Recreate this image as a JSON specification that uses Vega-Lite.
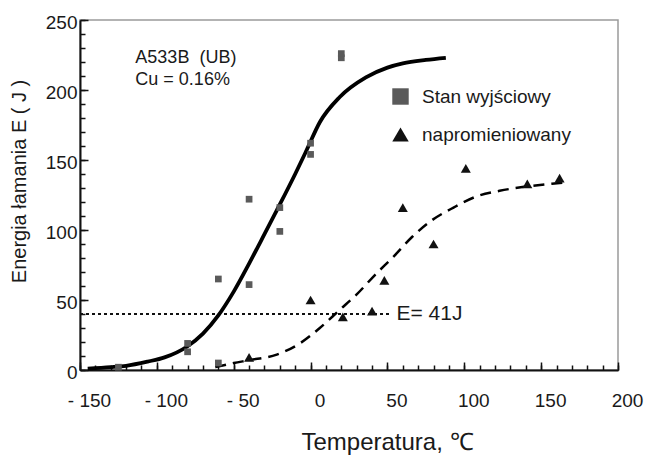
{
  "$schema": "https://vega.github.io/schema/vega-lite/v6.json",
  "width": 538,
  "height": 350,
  "autosize": {"type": "none"},
  "padding": {"left": 80, "top": 20, "right": 30, "bottom": 85},
  "background": "white",
  "config": {
    "font": "Liberation Sans",
    "view": {"stroke": "#9a9a9a", "strokeWidth": 1.5},
    "axis": {"domainColor": "#111", "domainWidth": 2, "tickColor": "#111", "tickWidth": 1.5, "labelColor": "#1a1a1a", "titleColor": "#1a1a1a", "titleFontWeight": "normal", "grid": false},
    "legend": {"symbolSize": 270}
  },
  "datasets": {
    "kwadraty": [
      {"seria": "Stan wyjściowy", "T": -125, "E": 2},
      {"seria": "Stan wyjściowy", "T": -80, "E": 19},
      {"seria": "Stan wyjściowy", "T": -80, "E": 13},
      {"seria": "Stan wyjściowy", "T": -60, "E": 5},
      {"seria": "Stan wyjściowy", "T": -60, "E": 65},
      {"seria": "Stan wyjściowy", "T": -40, "E": 61},
      {"seria": "Stan wyjściowy", "T": -40, "E": 122},
      {"seria": "Stan wyjściowy", "T": -20, "E": 116},
      {"seria": "Stan wyjściowy", "T": -20, "E": 99},
      {"seria": "Stan wyjściowy", "T": 0, "E": 162},
      {"seria": "Stan wyjściowy", "T": 0, "E": 154},
      {"seria": "Stan wyjściowy", "T": 20, "E": 223},
      {"seria": "Stan wyjściowy", "T": 20, "E": 226}
    ],
    "trojkaty": [
      {"seria": "napromieniowany", "T": -40, "E": 9},
      {"seria": "napromieniowany", "T": 0, "E": 50},
      {"seria": "napromieniowany", "T": 21, "E": 38},
      {"seria": "napromieniowany", "T": 40, "E": 42},
      {"seria": "napromieniowany", "T": 48, "E": 64},
      {"seria": "napromieniowany", "T": 60, "E": 116},
      {"seria": "napromieniowany", "T": 80, "E": 90},
      {"seria": "napromieniowany", "T": 101, "E": 144},
      {"seria": "napromieniowany", "T": 141, "E": 133},
      {"seria": "napromieniowany", "T": 162, "E": 137}
    ],
    "krzywa1": [
      {"T": -145, "E": 1}, {"T": -130, "E": 2}, {"T": -120, "E": 3}, {"T": -106, "E": 6},
      {"T": -95, "E": 9}, {"T": -80, "E": 17}, {"T": -70, "E": 26}, {"T": -60, "E": 39},
      {"T": -50, "E": 56}, {"T": -40, "E": 76}, {"T": -30, "E": 97}, {"T": -22, "E": 114},
      {"T": -10, "E": 140}, {"T": -3, "E": 156}, {"T": 6, "E": 177}, {"T": 19, "E": 195},
      {"T": 36, "E": 209}, {"T": 50, "E": 216}, {"T": 60, "E": 219}, {"T": 75, "E": 221.5},
      {"T": 88, "E": 223}
    ],
    "krzywa2": [
      {"T": -62, "E": 2}, {"T": -50, "E": 5}, {"T": -40, "E": 7}, {"T": -22, "E": 11},
      {"T": -7, "E": 19}, {"T": 6, "E": 30}, {"T": 19, "E": 43}, {"T": 30, "E": 54},
      {"T": 42, "E": 68}, {"T": 54, "E": 81}, {"T": 66, "E": 95}, {"T": 79, "E": 107},
      {"T": 93, "E": 116}, {"T": 108, "E": 124}, {"T": 123, "E": 128}, {"T": 140, "E": 131},
      {"T": 157, "E": 133}, {"T": 166, "E": 134}
    ],
    "prog": [{"T1": -150, "T2": 52, "E": 40, "opis": "E= 41J"}],
    "opisy": [
      {"T": -114, "E": 223, "tekst": "A533B\u00a0 (UB)"},
      {"T": -114, "E": 207, "tekst": "Cu = 0.16%"}
    ]
  },
  "layer": [
    {
      "data": {"name": "prog"},
      "mark": {"type": "rule", "strokeDash": [3, 3], "strokeWidth": 2, "color": "#111"},
      "encoding": {
        "x": {"field": "T1", "type": "quantitative", "scale": {"domain": [-150, 200], "nice": false},
          "axis": {"orient": "bottom", "values": [-150,-140,-130,-120,-110,-100,-90,-80,-70,-60,-50,-40,-30,-20,-10,0,10,20,30,40,50,60,70,80,90,100,110,120,130,140,150,160,170,180,190,200], "labels": false, "domain": false, "tickSize": -5, "title": null}},
        "x2": {"field": "T2"},
        "y": {"field": "E", "type": "quantitative", "scale": {"domain": [0, 250], "nice": false},
          "axis": {"orient": "left", "values": [0,10,20,30,40,50,60,70,80,90,100,110,120,130,140,150,160,170,180,190,200,210,220,230,240,250], "labels": false, "domain": false, "tickSize": -5, "title": null}}
      }
    },
    {
      "data": {"name": "prog"},
      "mark": {"type": "text", "align": "left", "baseline": "middle", "fontSize": 21, "color": "#1a1a1a", "dx": 6},
      "encoding": {
        "x": {"field": "T2", "type": "quantitative", "axis": null},
        "y": {"field": "E", "type": "quantitative", "axis": null},
        "text": {"field": "opis"}
      }
    },
    {
      "data": {"name": "krzywa1"},
      "mark": {"type": "line", "color": "#000", "strokeWidth": 3.8, "interpolate": "monotone"},
      "encoding": {
        "x": {"field": "T", "type": "quantitative",
          "axis": {"orient": "bottom", "values": [-150, -100, -50, 0, 50, 100, 150, 200], "tickSize": -8, "labelFontSize": 19, "labelPadding": 29, "labelOffset": 9,
            "labelExpr": "datum.value < 0 ? '- ' + (-datum.value) : '' + datum.value", "labelFlush": false,
            "title": "Temperatura, ℃", "titleFontSize": 24, "titleX": 307, "titleY": 79, "titleBaseline": "alphabetic"}},
        "y": {"field": "E", "type": "quantitative",
          "axis": {"orient": "left", "values": [0, 50, 100, 150, 200, 250], "tickSize": -8, "labelFontSize": 19, "labelPadding": 11, "labelOffset": 2,
            "title": "Energia łamania E ( J )", "titleFontSize": 20, "titleX": -61, "titleY": 161, "titleBaseline": "middle", "titleAngle": -90}}
      }
    },
    {
      "data": {"name": "krzywa2"},
      "mark": {"type": "line", "color": "#000", "strokeWidth": 2.5, "strokeDash": [11, 7], "interpolate": "monotone"},
      "encoding": {
        "x": {"field": "T", "type": "quantitative", "axis": null},
        "y": {"field": "E", "type": "quantitative", "axis": null}
      }
    },
    {
      "data": {"name": "kwadraty"},
      "mark": {"type": "point", "filled": true, "opacity": 1, "strokeWidth": 0, "size": 45},
      "encoding": {
        "x": {"field": "T", "type": "quantitative", "axis": null},
        "y": {"field": "E", "type": "quantitative", "axis": null},
        "color": {"field": "seria", "type": "nominal",
          "scale": {"domain": ["Stan wyjściowy", "napromieniowany"], "range": ["#5a5a5a", "#111111"]},
          "legend": {"title": null, "orient": "none", "legendX": 311, "legendY": 67, "symbolSize": 270, "labelFontSize": 19, "labelColor": "#1a1a1a", "labelOffset": 12, "rowPadding": 18, "padding": 0, "symbolStrokeWidth": 0}},
        "shape": {"field": "seria", "type": "nominal",
          "scale": {"domain": ["Stan wyjściowy", "napromieniowany"], "range": ["square", "triangle-up"]},
          "legend": {"title": null, "orient": "none", "legendX": 311, "legendY": 67, "symbolSize": 270, "labelFontSize": 19, "labelColor": "#1a1a1a", "labelOffset": 12, "rowPadding": 18, "padding": 0, "symbolStrokeWidth": 0}}
      }
    },
    {
      "data": {"name": "trojkaty"},
      "mark": {"type": "point", "filled": true, "opacity": 1, "strokeWidth": 0, "size": 100},
      "encoding": {
        "x": {"field": "T", "type": "quantitative", "axis": null},
        "y": {"field": "E", "type": "quantitative", "axis": null},
        "color": {"field": "seria", "type": "nominal"},
        "shape": {"field": "seria", "type": "nominal"}
      }
    },
    {
      "data": {"name": "opisy"},
      "mark": {"type": "text", "align": "left", "baseline": "middle", "fontSize": 18, "color": "#1a1a1a"},
      "encoding": {
        "x": {"field": "T", "type": "quantitative", "axis": null},
        "y": {"field": "E", "type": "quantitative", "axis": null},
        "text": {"field": "tekst"}
      }
    }
  ],
  "resolve": {"axis": {"x": "independent", "y": "independent"}}
}
